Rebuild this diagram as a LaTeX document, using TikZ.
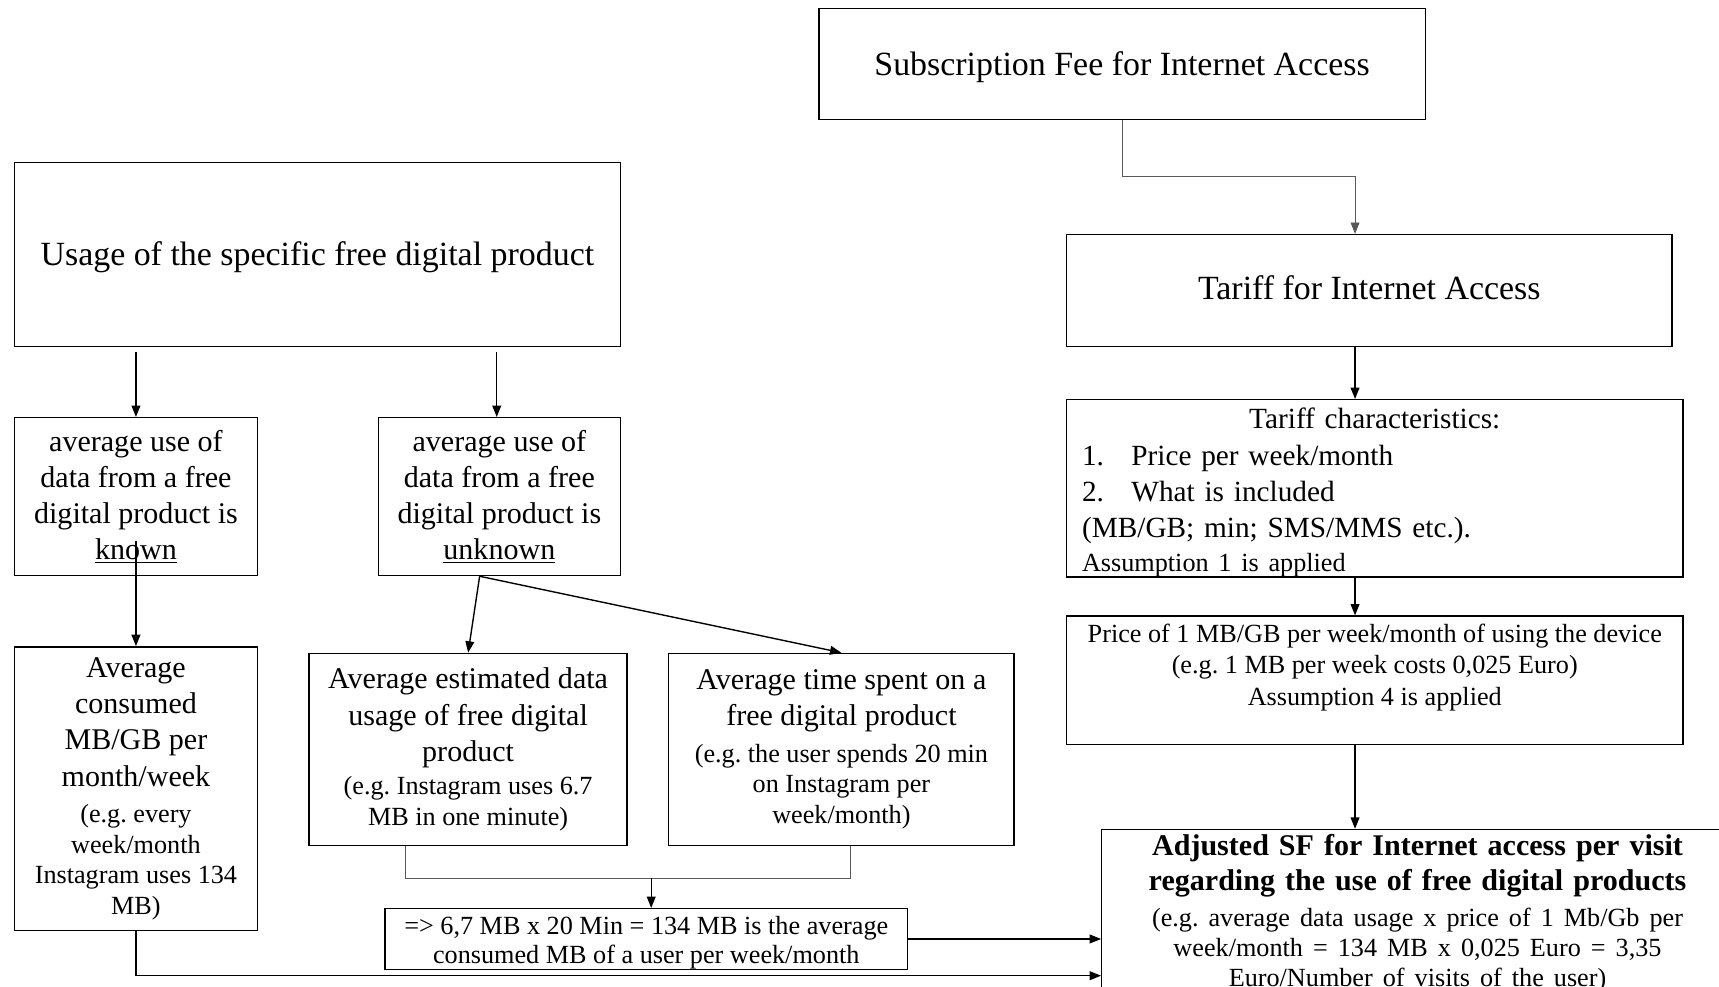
\documentclass[tikz,border=0pt]{standalone}
\usepackage{fontspec}
\setmainfont{Liberation Serif}
\usetikzlibrary{arrows.meta, positioning, calc}

\newcommand{\exsz}{\fontsize{17}{20}\selectfont}
\frenchspacing

\begin{document}
\begin{tikzpicture}[
  box/.style={
    draw, line width=0.9pt, align=center, inner sep=2pt,
    font=\fontsize{19.5}{23.5}\selectfont
  },
  headbox/.style={box, font=\fontsize{22}{26}\selectfont, text height=20pt, text depth=5pt},
  notebox/.style={box, font=\fontsize{17}{20.5}\selectfont},
  arr/.style={-{Triangle[length=2.6mm, width=2mm]}, line width=0.9pt},
  elbow/.style={-{Triangle[length=2.6mm, width=2mm]}, line width=0.6pt, black!65}
]
\useasboundingbox (0,0) rectangle (39.2,-22.5);

% Internet access side
\node[headbox, minimum width=13.825cm, minimum height=2.525cm] (sub) at (25.5875,-1.4625) {Subscription Fee for Internet Access};
\node[headbox, minimum width=13.8cm, minimum height=2.55cm, text height=17pt] (tariff) at (31.225,-6.625) {Tariff for Internet Access};
\node[box, font=\fontsize{19}{23.5}\selectfont, text width=13.35cm, inner xsep=0.35cm, inner ysep=0pt,
  minimum height=3.975cm, align=left] (tchar) at (31.35,-11.1375) {%
  \null\hfill\rule{0pt}{19pt}Tariff characteristics:\hfill\null\\
  \makebox[1.125cm][l]{1.}Price per week/month\\
  \makebox[1.125cm][l]{2.}What is included\\
  (MB/GB; min; SMS/MMS etc.).\\[-1.5pt]
  {\exsz Assumption 1 is applied}};
\node[notebox, minimum width=14.05cm, minimum height=2.925cm] (price) at (31.35,-15.5125)
  {Price of 1 MB/GB per week/month of using the device\\(e.g. 1 MB per week costs 0,025 Euro)\\Assumption 4 is applied\\\mbox{}};

% Free digital product side
\node[headbox, minimum width=13.825cm, minimum height=4.2cm] (usage) at (7.2375,-5.8) {Usage of the specific free digital product};
\node[box, minimum width=5.55cm, minimum height=3.6cm] (known) at (3.1,-11.325)
  {average use of\\data from a free\\digital product is\\\underline{known}};
\node[box, minimum width=5.525cm, minimum height=3.6cm] (unknown) at (11.3875,-11.325)
  {average use of\\data from a free\\digital product is\\\underline{unknown}};
\node[box, minimum width=5.55cm, minimum height=6.475cm] (consumed) at (3.1,-17.9875)
  {Average\\consumed\\MB/GB per\\month/week\\{\exsz (e.g. every}\\[-3.6pt]{\exsz week/month}\\[-3.6pt]{\exsz Instagram uses 134}\\[-3.6pt]{\exsz MB)}};
\node[box, minimum width=7.25cm, minimum height=4.375cm] (estimated) at (10.675,-17.0875)
  {Average estimated data\\usage of free digital\\product\\[-2pt]{\exsz (e.g. Instagram uses 6.7}\\[-3.6pt]{\exsz MB in one minute)}};
\node[box, minimum width=7.875cm, minimum height=4.375cm] (timespent) at (19.1875,-17.0875)
  {Average time spent on a\\free digital product\\{\exsz (e.g. the user spends 20 min}\\[-3.6pt]{\exsz on Instagram per}\\[-3.6pt]{\exsz week/month)}};
\node[notebox, minimum width=11.925cm, minimum height=1.325cm, inner ysep=0pt] (result) at (14.7375,-21.4125)
  {\rule{0pt}{16.5pt}=> 6,7 MB x 20 Min = 134 MB is the average\\[-1.3pt]consumed MB of a user per week/month};

% Final result
\node[box, anchor=north, text width=14cm, inner xsep=0.2cm, inner ysep=3pt, font=\fontsize{19.5}{23}\selectfont] (adjusted) at (32.325,-18.9)
  {\textbf{Adjusted SF for Internet access per visit}\\
   \textbf{regarding the use of free digital products}\\[0.5pt]
   {\exsz (e.g. average data usage x price of 1 Mb/Gb per}\\[-3.8pt]
   {\exsz week/month = 134 MB x 0,025 Euro = 3,35}\\[-3.8pt]
   {\exsz Euro/Number of visits of the user)}};

% Right column arrows
\coordinate (rx) at (30.9,0);
\draw[elbow] (sub.south) -- ++(0,-1.275) -| (rx |- tariff.north);
\draw[arr] (rx |- tariff.south) -- (rx |- tchar.north);
\draw[arr] (rx |- tchar.south) -- (rx |- price.north);
\draw[arr] (rx |- price.south) -- (rx |- adjusted.north);

% Left side arrows
\draw[arr] ($(known.north |- usage.south)+(0,-0.1)$) -- (known.north);
\draw[arr] ($(unknown.north |- usage.south)+(-0.06,-0.1)$) -- ($(unknown.north)+(-0.06,0)$);
\draw[arr] ($(known.south)+(0,0.8)$) -- (consumed.north);
\coordinate (split) at ($(unknown.south)+(-0.45,0)$);
\draw[arr] (split) -- (estimated.north);
\draw[arr] (split) -- (timespent.north);

% Combining estimate and time
\coordinate (join) at (14.85,-20.025);
\draw[elbow, -] ($(estimated.south)+(-1.425,0)$) |- (join) -| ($(timespent.south)+(0.2125,0)$);
\draw[arr] (join) -- (join |- result.north);

% Into the adjusted fee
\coordinate (low) at (0,-22.25);
\draw[arr] (result.east) -- (result.east -| adjusted.west);
\draw[arr] (consumed.south) |- (adjusted.west |- low);

\end{tikzpicture}
\end{document}
